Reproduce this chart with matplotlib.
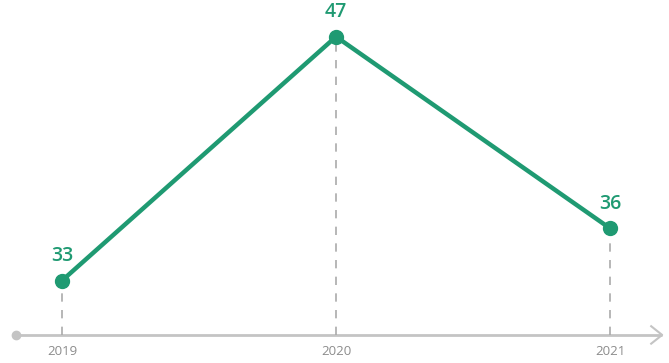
import matplotlib.pyplot as plt

plt.rcParams['font.family'] = ['Open Sans', 'DejaVu Sans']

years = ['2019', '2020', '2021']
values = [33, 47, 36]

green = '#1f9a72'
grey = '#c4c4c4'

fig = plt.figure(figsize=(6.69, 3.63), dpi=100)
ax = fig.add_axes([0, 0, 1, 1])
ax.set_xlim(-0.226, 2.215)
ax.set_ylim(28.275, 49.105)
ax.axis('off')

x = list(range(len(years)))
base = 29.885

# axis line with dot + arrow
ax.plot([-0.168, 2.19], [base, base], color=grey, lw=2, solid_capstyle='butt', zorder=1)
ax.plot([-0.168], [base], 'o', color=grey, ms=6, zorder=1)
ax.plot([2.15, 2.19, 2.15], [base + 0.5, base, base - 0.5], color=grey, lw=1.5, zorder=1)

# dashed drop lines
for xi, v in zip(x, values):
    ax.plot([xi, xi], [base, v], color='#aaaaaa', lw=1.2, ls=(0, (5, 5)), zorder=1)

ax.plot(x, values, color=green, lw=3.2, marker='o', ms=10, zorder=3)

for xi, v in zip(x, values):
    ax.text(xi, v + 0.85, str(v), color=green, fontsize=14, fontweight='semibold',
            ha='center', va='bottom')
for xi, y in zip(x, years):
    ax.text(xi, base - 0.55, y, color='#8c8c8c', fontsize=9.5, ha='center', va='top')

fig.savefig('out.png', dpi=100)
